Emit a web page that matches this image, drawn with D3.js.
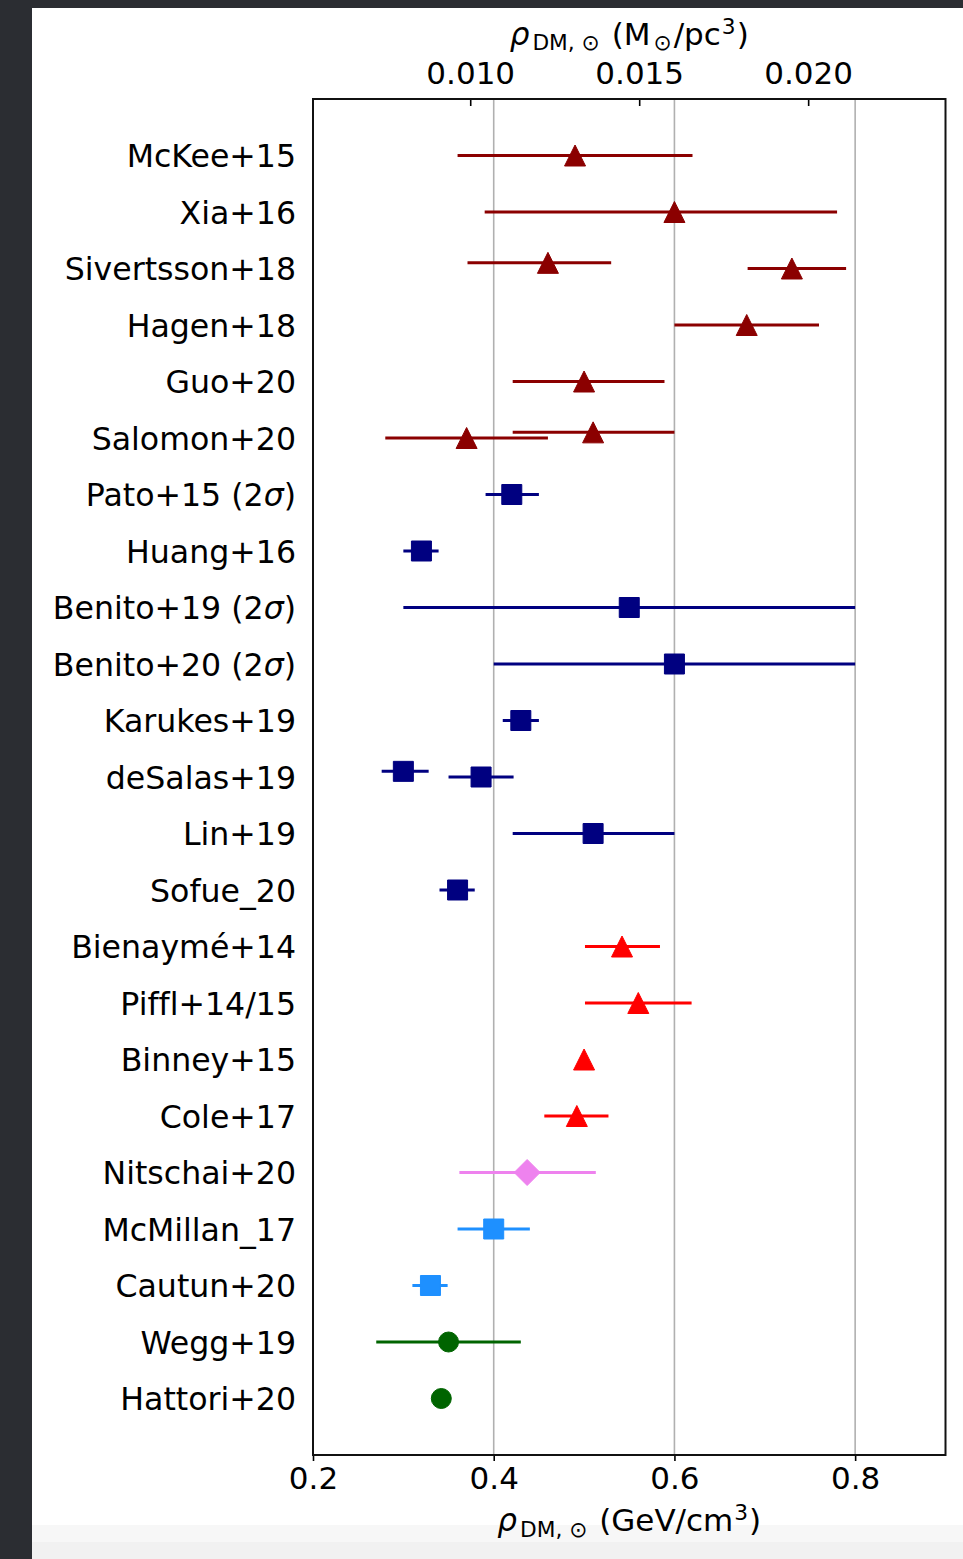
<!DOCTYPE html>
<html>
<head>
<meta charset="utf-8">
<script src="https://cdn.jsdelivr.net/npm/d3@7"></script>
<style>
  html, body { margin: 0; padding: 0; background: #2b2d32; }
  svg { display: block; }
  text { font-family: "DejaVu Sans", sans-serif; font-variant-ligatures: none; }
</style>
</head>
<body>
<svg id="chart" width="963" height="1559"></svg>
<script>
// Studies, listed top to bottom
const studies = [
  "McKee+15", "Xia+16", "Sivertsson+18", "Hagen+18", "Guo+20", "Salomon+20",
  "Pato+15 (2σ)", "Huang+16", "Benito+19 (2σ)", "Benito+20 (2σ)", "Karukes+19",
  "deSalas+19", "Lin+19", "Sofue_20", "Bienaymé+14", "Piffl+14/15", "Binney+15",
  "Cole+17", "Nitschai+20", "McMillan_17", "Cautun+20", "Wegg+19", "Hattori+20"
];

// One entry per measurement (GeV/cm^3). Where a study has two measurements,
// the one listed first is nudged slightly upward so both stay readable.
const pointStudy   = ["McKee+15", "Xia+16", "Sivertsson+18", "Sivertsson+18", "Hagen+18", "Guo+20",
                      "Salomon+20", "Salomon+20", "Pato+15 (2σ)", "Huang+16", "Benito+19 (2σ)",
                      "Benito+20 (2σ)", "Karukes+19", "deSalas+19", "deSalas+19", "Lin+19", "Sofue_20",
                      "Bienaymé+14", "Piffl+14/15", "Binney+15", "Cole+17", "Nitschai+20",
                      "McMillan_17", "Cautun+20", "Wegg+19", "Hattori+20"];
const pointValue   = [0.49, 0.60, 0.46, 0.73, 0.68, 0.50, 0.51, 0.37, 0.42, 0.32, 0.55,
                      0.60, 0.43, 0.30, 0.386, 0.51, 0.36, 0.542, 0.56, 0.50, 0.492, 0.437,
                      0.40, 0.33, 0.35, 0.342];
const pointLower   = [0.36, 0.39, 0.371, 0.681, 0.60, 0.421, 0.421, 0.28, 0.391, 0.30, 0.30,
                      0.40, 0.41, 0.276, 0.35, 0.421, 0.34, 0.501, 0.501, null, 0.456, 0.362,
                      0.36, 0.31, 0.27, null];
const pointUpper   = [0.62, 0.78, 0.53, 0.79, 0.76, 0.589, 0.60, 0.46, 0.45, 0.339, 0.80,
                      0.80, 0.45, 0.328, 0.422, 0.60, 0.379, 0.584, 0.619, null, 0.527, 0.513,
                      0.44, 0.349, 0.43, null];
const pointMethod  = ["vertical", "vertical", "vertical", "vertical", "vertical", "vertical",
                      "vertical", "vertical", "rotation", "rotation", "rotation",
                      "rotation", "rotation", "rotation", "rotation", "rotation", "rotation",
                      "distfn", "distfn", "distfn", "distfn", "jeans",
                      "massmodel", "massmodel", "halostars", "halostars"];

// Axis ticks
const bottomTicks = [0.2, 0.4, 0.6, 0.8];
const topTicks = [0.010, 0.015, 0.020];
const gevPerMsunPc3 = 37.4;

// Look of each method group
const methodStyle = {
  vertical:  { color: "#8b0000", marker: "triangle" },
  rotation:  { color: "#000080", marker: "square" },
  distfn:    { color: "#ff0000", marker: "triangle" },
  jeans:     { color: "#ee82ee", marker: "diamond" },
  massmodel: { color: "#1e90ff", marker: "square" },
  halostars: { color: "#006400", marker: "circle" }
};

const svg = d3.select("#chart");
const W = 963, H = 1559;

// page frame
svg.append("rect").attr("width", W).attr("height", H).attr("fill", "#2b2d32");
svg.append("rect").attr("x", 32).attr("y", 8).attr("width", W - 32).attr("height", H - 8).attr("fill", "#ffffff");
svg.append("rect").attr("x", 32).attr("y", 1525).attr("width", W - 32).attr("height", 17).attr("fill", "#f7f7f7");
svg.append("rect").attr("x", 32).attr("y", 1542).attr("width", W - 32).attr("height", 17).attr("fill", "#f1f1f1");

const plot = { left: 313, right: 945.5, top: 99, bottom: 1455 };

const x = d3.scaleLinear().domain([0.2, 0.9]).range([plot.left, plot.right]);
const xTop = d3.scaleLinear().domain([0.2 / gevPerMsunPc3, 0.9 / gevPerMsunPc3]).range([plot.left, plot.right]);
const y = d3.scaleLinear().domain([-1, studies.length]).range([plot.top, plot.bottom]);

// vertical grid lines
svg.append("g").selectAll("line")
  .data(bottomTicks.filter(t => t > 0.2))
  .join("line")
  .attr("x1", d => x(d)).attr("x2", d => x(d))
  .attr("y1", plot.top).attr("y2", plot.bottom)
  .attr("stroke", "#b0b0b0").attr("stroke-width", 1.6);

// measurement rows
const seen = {};
const points = pointStudy.map((s, i) => {
  const count = pointStudy.filter(p => p === s).length;
  seen[s] = (seen[s] || 0) + 1;
  const nudge = (count > 1 && seen[s] === 1) ? -0.1 : 0;
  return {
    row: studies.indexOf(s) + nudge,
    value: pointValue[i], lower: pointLower[i], upper: pointUpper[i],
    style: methodStyle[pointMethod[i]]
  };
});

const marks = svg.append("g");
marks.selectAll("line.err")
  .data(points.filter(p => p.lower !== null))
  .join("line")
  .attr("class", "err")
  .attr("x1", d => x(d.lower)).attr("x2", d => x(d.upper))
  .attr("y1", d => y(d.row)).attr("y2", d => y(d.row))
  .attr("stroke", d => d.style.color).attr("stroke-width", 3);

function markerPath(kind) {
  if (kind === "triangle") { const s = 10.5; return `M0,${-s}L${s},${s}L${-s},${s}Z`; }
  if (kind === "square") { const s = 10; return `M${-s},${-s}H${s}V${s}H${-s}Z`; }
  if (kind === "diamond") { const s = 13; return `M0,${-s}L${s},0L0,${s}L${-s},0Z`; }
  const r = 10; return `M${r},0A${r},${r},0,1,1,${-r},0A${r},${r},0,1,1,${r},0Z`;
}

marks.selectAll("path.mk")
  .data(points)
  .join("path")
  .attr("class", "mk")
  .attr("transform", d => `translate(${x(d.value)},${y(d.row)})`)
  .attr("d", d => markerPath(d.style.marker))
  .attr("fill", d => d.style.color)
  .attr("stroke", d => d.style.color).attr("stroke-width", 1);

// axes
const fontSize = 31;

const bottomAxis = svg.append("g")
  .attr("transform", `translate(0,${plot.bottom})`)
  .call(d3.axisBottom(x).tickValues(bottomTicks).tickFormat(d3.format(".1f")).tickSizeInner(6).tickSizeOuter(0).tickPadding(6));

const topAxis = svg.append("g")
  .attr("transform", `translate(0,${plot.top})`)
  .call(d3.axisTop(xTop).tickValues(topTicks).tickFormat(d3.format(".3f")).tickSizeInner(-7).tickSizeOuter(0).tickPadding(15));

const leftAxis = svg.append("g")
  .attr("transform", `translate(${plot.left},0)`)
  .call(d3.axisLeft(y).tickValues(d3.range(studies.length)).tickFormat(i => studies[i]).tickSize(0).tickPadding(17));

[bottomAxis, topAxis, leftAxis].forEach(g => {
  g.select(".domain").remove();
  g.selectAll(".tick line").attr("stroke", "#000").attr("stroke-width", 1.6);
  g.selectAll(".tick text").attr("fill", "#000").style("font-size", fontSize + "px")
    .style("font-family", "'DejaVu Sans', sans-serif");
});
leftAxis.selectAll(".tick text").attr("dy", "0.36em").style("font-size", "31.6px");

// italic sigma inside the "(2σ)" labels
leftAxis.selectAll(".tick text").each(function (i) {
  const label = studies[i];
  if (!label.includes("σ")) return;
  const t = d3.select(this).text(null);
  const parts = label.split("σ");
  t.append("tspan").text(parts[0]);
  t.append("tspan").style("font-style", "italic").text("σ");
  t.append("tspan").text(parts[1]);
});

// plot frame
svg.append("rect")
  .attr("x", plot.left).attr("y", plot.top)
  .attr("width", plot.right - plot.left).attr("height", plot.bottom - plot.top)
  .attr("fill", "none").attr("stroke", "#111").attr("stroke-width", 2);

// axis titles with sub- and superscripts
function axisTitle(yPos, pieces) {
  const t = svg.append("text")
    .attr("x", (plot.left + plot.right) / 2).attr("y", yPos)
    .attr("text-anchor", "middle").style("font-size", fontSize + "px").attr("fill", "#000");
  pieces.forEach(p => {
    const s = t.append("tspan").text(p.text);
    if (p.italic) s.style("font-style", "italic");
    if (p.small) s.style("font-size", (fontSize * 0.7) + "px");
    if (p.dy) s.attr("dy", p.dy);
    if (p.dx) s.attr("dx", p.dx);
  });
}

axisTitle(1531, [
  { text: "ρ", italic: true },
  { text: "DM, ⊙", small: true, dy: 6, dx: 3 },
  { text: " (GeV/cm", dy: -6, dx: 2 },
  { text: "3", small: true, dy: -11, dx: 1 },
  { text: ")", dy: 11, dx: 1 }
]);

axisTitle(45, [
  { text: "ρ", italic: true },
  { text: "DM, ⊙", small: true, dy: 5, dx: 3 },
  { text: " (M", dy: -5, dx: 2 },
  { text: "⊙", small: true, dy: 5, dx: 3 },
  { text: "/pc", dy: -5, dx: 2 },
  { text: "3", small: true, dy: -11, dx: 1 },
  { text: ")", dy: 11, dx: 1 }
]);
</script>
</body>
</html>
